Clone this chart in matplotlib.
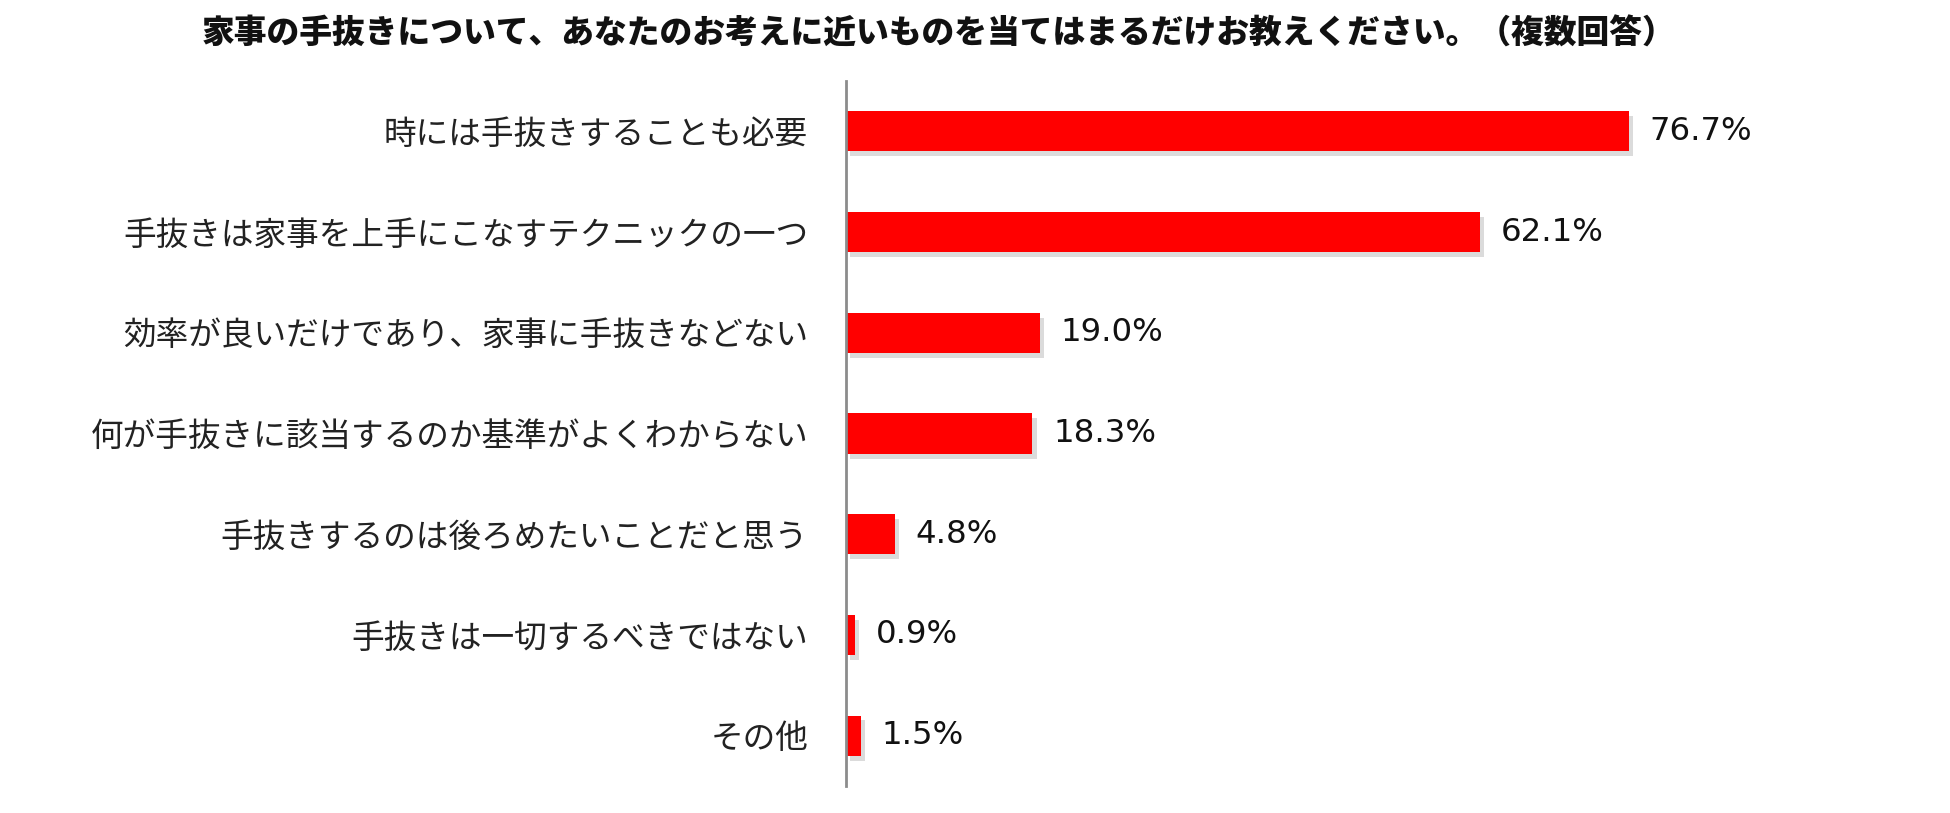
import matplotlib
matplotlib.use("Agg")
import matplotlib.pyplot as plt
import matplotlib.patheffects as pe

plt.rcParams['font.family'] = ['Noto Sans CJK JP', 'DejaVu Sans']

title = "家事の手抜きについて、あなたのお考えに近いものを当てはまるだけお教えください。（複数回答）"
categories = [
    "時には手抜きすることも必要",
    "手抜きは家事を上手にこなすテクニックの一つ",
    "効率が良いだけであり、家事に手抜きなどない",
    "何が手抜きに該当するのか基準がよくわからない",
    "手抜きするのは後ろめたいことだと思う",
    "手抜きは一切するべきではない",
    "その他",
]
values = [76.7, 62.1, 19.0, 18.3, 4.8, 0.9, 1.5]
value_labels = ["76.7%", "62.1%", "19.0%", "18.3%", "4.8%", "0.9%", "1.5%"]

W, H = 1950, 813
fig = plt.figure(figsize=(W / 100, H / 100), dpi=100)
ax_left = 845.6 / W
ax_bottom = (H - 786) / H
ax_top = 1 - 81 / H
ax_width = 1021 / W
ax = fig.add_axes([ax_left, ax_bottom, ax_width, ax_top - ax_bottom])

ypos = list(range(len(categories)))
bars = ax.barh(ypos, values, height=0.4, color="#FF0000", zorder=2)
for b in bars:
    b.set_path_effects([
        pe.SimplePatchShadow(offset=(3, -3.5), shadow_rgbFace="#999999", alpha=0.35),
        pe.Normal(),
    ])

for y, v, lab in zip(ypos, values, value_labels):
    ax.annotate(lab, xy=(v, y), xytext=(15, 0), textcoords="offset points",
                va="center", ha="left", fontsize=23.3, family="DejaVu Sans", color="#111111")

ax.set_xlim(0, 100)
ax.set_ylim(len(categories) - 0.5, -0.5)
ax.set_yticks(ypos)
ax.set_yticklabels(categories, fontsize=23.5, color="#222222")
ax.tick_params(axis="y", length=0, pad=27)
ax.set_xticks([])
for s in ["top", "right", "bottom"]:
    ax.spines[s].set_visible(False)
ax.spines["left"].set_color("#8c8c8c")
ax.spines["left"].set_linewidth(2)
ax.spines["left"].set_zorder(3)

fig.text(939 / W, 1 - 34 / H, title, ha="center", va="center", fontsize=23.6,
         fontweight="heavy", color="#111111")

fig.savefig("out.png", dpi=100, facecolor="white")
